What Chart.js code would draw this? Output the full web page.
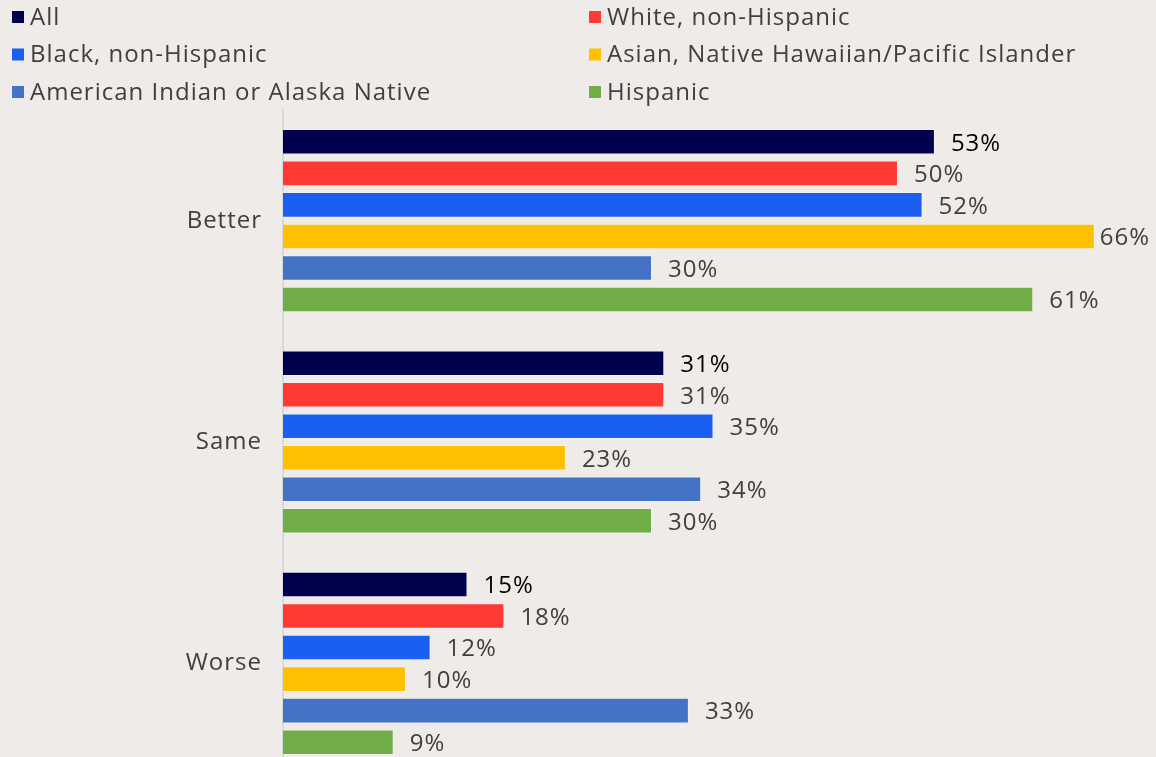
<!DOCTYPE html>
<html>
<head>
<meta charset="utf-8">
<script src="https://cdn.jsdelivr.net/npm/chart.js@4/dist/chart.umd.min.js"></script>
<style>
  html, body { margin: 0; padding: 0; background: #EFEBE8; overflow: hidden; }
  #appBarChart { display: block; }
</style>
</head>
<body>
<canvas id="appBarChart" width="1156" height="790"></canvas>
<script>
// 응답 구분 (y축)
const categories = ['Better', 'Same', 'Worse'];

// 계열 이름 / 색상
const seriesNames = [
  'All',
  'White, non-Hispanic',
  'Black, non-Hispanic',
  'Asian, Native Hawaiian/Pacific Islander',
  'American Indian or Alaska Native',
  'Hispanic'
];
const seriesColors = ['#00004F', '#FF3A35', '#1B5EF2', '#FFC000', '#4472C4', '#70AD47'];

// 계열별 값 (%) : Better, Same, Worse
const allValues      = [53, 31, 15];
const whiteValues    = [50, 31, 18];
const blackValues    = [52, 35, 12];
const asianValues    = [66, 23, 10];
const aianValues     = [30, 34, 33];
const hispanicValues = [61, 30, 9];

const seriesValues = [allValues, whiteValues, blackValues, asianValues, aianValues, hispanicValues];

const FONT = '"Open Sans", sans-serif';
const TEXT_COLOR = '#404040';
const SPACING = '1px';

// 글자 간격 (축 라벨 포함)
const spacingPlugin = {
  id: 'letterSpacing',
  beforeDraw(chart) { chart.ctx.letterSpacing = SPACING; }
};

// 범례 (2열) 직접 그리기
const legendPlugin = {
  id: 'twoColLegend',
  afterDraw(chart) {
    const ctx = chart.ctx;
    ctx.save();
    ctx.letterSpacing = SPACING;
    ctx.font = '24px ' + FONT;
    ctx.textBaseline = 'middle';
    chart.data.datasets.forEach(function(ds, i) {
      const col = i % 2;
      const row = Math.floor(i / 2);
      const x = col === 0 ? 12 : 589;
      const y = 17 + row * 37.5;
      ctx.fillStyle = ds.backgroundColor;
      ctx.fillRect(x, y - 6, 12, 12);
      ctx.fillStyle = TEXT_COLOR;
      ctx.fillText(ds.label, x + 18, y + 1);
    });
    ctx.restore();
  }
};

// 막대 끝 값 라벨
const valueLabelPlugin = {
  id: 'valueLabels',
  afterDatasetsDraw(chart) {
    const ctx = chart.ctx;
    ctx.save();
    ctx.letterSpacing = SPACING;
    ctx.font = '24px ' + FONT;
    ctx.textBaseline = 'middle';
    chart.data.datasets.forEach(function(ds, i) {
      const meta = chart.getDatasetMeta(i);
      meta.data.forEach(function(bar, j) {
        const text = ds.data[j] + '%';
        const w = ctx.measureText(text).width;
        let x = bar.x + 16;
        if (x + w > chart.width - 6) x = Math.max(bar.x + 3, chart.width - 6 - w);
        ctx.fillStyle = i === 0 ? '#000000' : TEXT_COLOR;
        ctx.fillText(text, x, bar.y + 2);
      });
    });
    ctx.restore();
  }
};

const datasets = seriesNames.map(function(name, i) {
  return {
    label: name,
    data: seriesValues[i],
    backgroundColor: seriesColors[i],
    borderColor: 'rgba(255,255,255,0.3)',
    borderWidth: 1,
    borderSkipped: 'left',
    categoryPercentage: 0.855,
    barPercentage: 0.81
  };
});

new Chart(document.getElementById('appBarChart'), {
  type: 'bar',
  data: { labels: categories, datasets: datasets },
  plugins: [spacingPlugin, legendPlugin, valueLabelPlugin],
  options: {
    indexAxis: 'y',
    responsive: false,
    animation: false,
    devicePixelRatio: 1,
    layout: { padding: { top: 110, bottom: 16, left: 0, right: 12 } },
    plugins: {
      legend: { display: false },
      tooltip: { enabled: false }
    },
    scales: {
      x: {
        display: false,
        min: 0,
        max: 70
      },
      y: {
        afterFit: function(scale) {
          scale.width = 283;
          scale.paddingTop = 0;
          scale.paddingBottom = 0;
        },
        grid: { display: false, drawTicks: false },
        border: { display: true, color: '#D9D9D9', width: 2 },
        ticks: {
          padding: 21,
          color: TEXT_COLOR,
          font: { family: FONT, size: 24 }
        }
      }
    }
  }
});
</script>
</body>
</html>
